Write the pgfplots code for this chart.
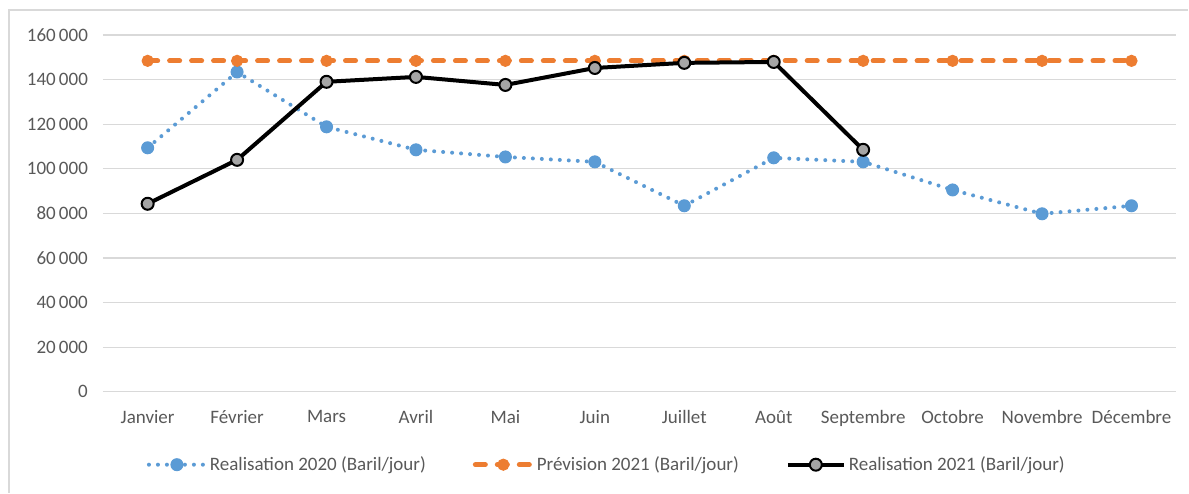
\documentclass[border=0pt]{standalone}
\usepackage{fontspec}
\setmainfont{Carlito}
\usepackage{pgfplots}
\pgfplotsset{compat=1.18}
\definecolor{cblue}{HTML}{5B9BD5}
\definecolor{corange}{HTML}{ED7D31}
\definecolor{cgrid}{HTML}{D9D9D9}
\definecolor{ctext}{HTML}{595959}
\definecolor{cmark}{HTML}{A5A5A5}
\begin{document}
\begin{tikzpicture}
\fill[white] (-51.5pt,-50.5pt) rectangle (543pt,196pt);
\draw[cgrid, line width=0.8pt] (-47pt,-50.5pt) -- (-47pt,191pt) -- (543pt,191pt);
\begin{axis}[
  at={(0pt,0pt)}, anchor=south west,
  scale only axis, width=537pt, height=178.5pt,
  xmin=-0.5, xmax=11.5, ymin=0, ymax=160000,
  scaled y ticks=false,
  ytick={0,20000,40000,60000,80000,100000,120000,140000,160000},
  yticklabels={0,20\,000,40\,000,60\,000,80\,000,100\,000,120\,000,140\,000,160\,000},
  xtick={0,...,11},
  xticklabels={Janvier,Février,Mars,Avril,Mai,Juin,Juillet,Août,Septembre,Octobre,Novembre,Décembre},
  ymajorgrids, grid style={cgrid, line width=0.6pt},
  axis line style={draw=none},
  major tick length=0pt,
  tick label style={font=\fontsize{9.5}{11}\selectfont, text=ctext},
  yticklabel style={xshift=-4pt},
  xticklabel style={yshift=-6pt},
  clip=false,
  legend style={draw=none, fill=none, at={(rel axis cs:0.47,-0.2045)}, anchor=center,
    font=\fontsize{9.5}{11}\selectfont, text=ctext,
    /tikz/every even column/.append style={column sep=22pt},
    nodes={inner xsep=1.5pt}},
  legend columns=3,
  legend image code/.code={\draw[mark repeat=2,mark phase=2] plot coordinates {(0pt,0pt) (14pt,0pt) (28pt,0pt)};},
]
\addplot[cblue, line width=2pt, line cap=round, dash pattern=on 0pt off 4.5pt,
  mark=*, mark size=3pt, mark options={solid, fill=cblue, draw=cblue, line width=0.5pt}]
  coordinates {(0,109400) (1,143400) (2,118800) (3,108500) (4,105300) (5,103100) (6,83400) (7,104900) (8,103100) (9,90500) (10,79800) (11,83400)};
\addlegendentry{Realisation 2020 (Baril/jour)}
\addplot[corange, line width=2.5pt, line cap=round, dash pattern=on 5pt off 6pt,
  mark=*, mark size=2.8pt, mark options={solid, fill=corange, draw=corange, line width=0.5pt}]
  coordinates {(0,148400) (1,148400) (2,148400) (3,148400) (4,148400) (5,148400) (6,148400) (7,148400) (8,148400) (9,148400) (10,148400) (11,148400)};
\addlegendentry{Prévision 2021 (Baril/jour)}
\addplot[black, line width=2pt,
  mark=*, mark size=3pt, mark options={solid, fill=cmark, draw=black, line width=1pt}]
  coordinates {(0,84300) (1,104000) (2,139000) (3,141200) (4,137600) (5,145200) (6,147500) (7,147900) (8,108500)};
\addlegendentry{Realisation 2021 (Baril/jour)}
\end{axis}
\end{tikzpicture}
\end{document}
